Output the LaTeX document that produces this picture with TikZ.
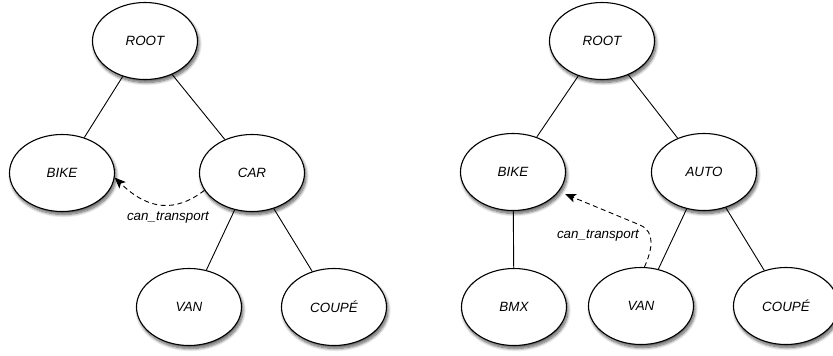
\documentclass[tikz,border=0pt]{standalone}
\usepackage{fontspec}
\setmainfont{Liberation Sans}
\usetikzlibrary{shapes.geometric,arrows.meta,shadows.blur}

\tikzset{
  concept/.style={ellipse, draw=black, line width=1.1pt, fill=white,
    minimum width=105pt, minimum height=77pt, inner sep=0pt,
    font=\fontsize{13.4}{16}\selectfont\itshape,
    blur shadow={shadow xshift=1.5pt, shadow yshift=-3pt,
      shadow blur radius=3pt, shadow blur steps=10, shadow opacity=65}},
  link/.style={line width=0.9pt},
  relation/.style={line width=0.9pt, dash pattern=on 5pt off 3.5pt,
    -{Stealth[length=11pt,width=9pt,inset=2.5pt]}},
  rellabel/.style={font=\fontsize{13.4}{16}\selectfont\itshape, inner sep=0pt}
}

\begin{document}
\begin{tikzpicture}[x=1pt,y=-1pt]
  \useasboundingbox (0,0) rectangle (833,356);

  % first hierarchy
  \node[concept] (rootA)  at (145,41)  {ROOT};
  \node[concept] (bikeA)  at (62,173)  {BIKE};
  \node[concept] (carA)   at (252,173) {CAR};
  \node[concept] (vanA)   at (189,307) {VAN};
  \node[concept] (coupeA) at (334,307) {COUPÉ};

  \draw[link] (rootA) -- (bikeA);
  \draw[link] (rootA) -- (carA);
  \draw[link] (carA) -- (vanA);
  \draw[link] (carA) -- (coupeA);

  \draw[relation] (carA.200) .. controls (175,213) and (148,210) .. (bikeA.-5);
  \node[rellabel] (relA) at (168,218) {can\_transport};

  % second hierarchy
  \node[concept] (rootB)  at (602,41)  {ROOT};
  \node[concept] (bikeB)  at (513,172) {BIKE};
  \node[concept] (autoB)  at (704,172) {AUTO};
  \node[concept] (bmxB)   at (514,307) {BMX};
  \node[concept] (vanB)   at (641,306) {VAN};
  \node[concept] (coupeB) at (786,306) {COUPÉ};

  \draw[link] (rootB) -- (bikeB);
  \draw[link] (rootB) -- (autoB);
  \draw[link] (bikeB) -- (bmxB);
  \draw[link] (autoB) -- (vanB);
  \draw[link] (autoB) -- (coupeB);

  \coordinate (tipB) at (565,194);
  \draw[relation] (vanB.85) .. controls (652,250) and (656,232) .. (640,225) -- (tipB);
  \node[rellabel] (relB) at (598,236) {can\_transport};
\end{tikzpicture}
\end{document}
